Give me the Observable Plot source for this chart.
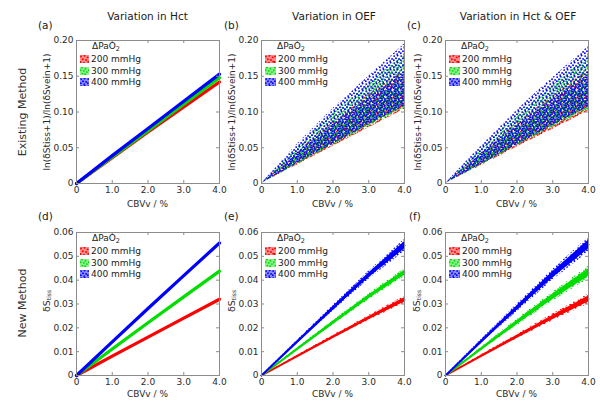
<!DOCTYPE html>
<html><head><meta charset="utf-8">
<script src="https://cdn.jsdelivr.net/npm/d3@7"></script>
<script src="https://cdn.jsdelivr.net/npm/@observablehq/plot@0.6"></script>
<style>
body{margin:0;background:#fff;font-family:"DejaVu Sans",sans-serif;color:#222;}
#fig{position:relative;width:600px;height:410px;overflow:hidden;background:#fff;}
.t{position:absolute;white-space:nowrap;line-height:1;transform:translate(-50%,-50%);}
.tl{position:absolute;white-space:nowrap;line-height:1;transform:translate(0,-50%);}
.rot{transform:translate(-50%,-50%) rotate(-90deg);}
.leg{position:absolute;font-size:9px;line-height:1;white-space:nowrap;color:#222;}
.leg sub{font-size:6.5px;vertical-align:-2px;line-height:0;}
.sw{position:absolute;}
</style></head><body>
<svg width="0" height="0" style="position:absolute">
<defs>
<pattern id="patR" patternUnits="userSpaceOnUse" width="9" height="9">
<g fill="#ff0000">
<circle cx="1" cy="1.5" r="0.95"/><circle cx="4.5" cy="0.8" r="0.95"/><circle cx="7.6" cy="2.4" r="0.95"/>
<circle cx="2.8" cy="4.2" r="0.95"/><circle cx="6" cy="5" r="0.95"/><circle cx="0.6" cy="7" r="0.95"/>
<circle cx="3.9" cy="7.6" r="0.95"/><circle cx="8.2" cy="6.8" r="0.95"/>
</g>
</pattern>
<pattern id="patG" patternUnits="userSpaceOnUse" width="8" height="8">
<g fill="#00dd00">
<circle cx="2" cy="0.6" r="0.95"/><circle cx="5.5" cy="1.8" r="0.95"/><circle cx="0.7" cy="3.3" r="0.95"/>
<circle cx="3.8" cy="3.9" r="0.95"/><circle cx="6.9" cy="5.1" r="0.95"/><circle cx="2.4" cy="6.6" r="0.95"/>
<circle cx="5.2" cy="7.2" r="0.95"/>
</g>
</pattern>
<pattern id="patB" patternUnits="userSpaceOnUse" width="7" height="7">
<g fill="#0000ff">
<circle cx="1.2" cy="1.1" r="0.95"/><circle cx="4.6" cy="0.5" r="0.95"/><circle cx="3" cy="3.2" r="0.95"/>
<circle cx="6.1" cy="3.9" r="0.95"/><circle cx="0.8" cy="5.2" r="0.95"/><circle cx="4.2" cy="6.1" r="0.95"/>
</g>
</pattern>
<pattern id="patR2" patternUnits="userSpaceOnUse" width="9" height="9">
<g fill="#ff0000">
<circle cx="2.9" cy="2" r="0.95"/><circle cx="6.2" cy="0.3" r="0.95"/><circle cx="8.5" cy="4.3" r="0.95"/>
<circle cx="4.6" cy="5.9" r="0.95"/><circle cx="1.5" cy="5.5" r="0.95"/><circle cx="6.7" cy="8.2" r="0.95"/>
</g>
</pattern>
<pattern id="patG2" patternUnits="userSpaceOnUse" width="8" height="8">
<g fill="#00dd00">
<circle cx="4" cy="0.5" r="0.95"/><circle cx="7.4" cy="2.9" r="0.95"/><circle cx="2.3" cy="2.6" r="0.95"/>
<circle cx="5.4" cy="5.3" r="0.95"/><circle cx="0.6" cy="5.6" r="0.95"/><circle cx="3.6" cy="7.5" r="0.95"/>
</g>
</pattern>
<pattern id="patB2" patternUnits="userSpaceOnUse" width="7" height="7">
<g fill="#0000ff">
<circle cx="2.8" cy="1.4" r="0.95"/><circle cx="5.8" cy="2" r="0.95"/><circle cx="1.5" cy="3.9" r="0.95"/>
<circle cx="5" cy="4.9" r="0.95"/><circle cx="2.4" cy="6.4" r="0.95"/>
</g>
</pattern>
</defs>
</svg>
<div id="fig"></div>
<script>
// ---------- data ----------
const cbvGrid = [0, 1, 2, 3, 4];
const cbvTicks = [0, 1, 2, 3, 4];
const cbvTickLabels = ["0", "1.0", "2.0", "3.0", "4.0"];
const ratioTicks = [0, 0.05, 0.1, 0.15, 0.2];
const ratioTickLabels = ["0", "0.05", "0.10", "0.15", "0.20"];
const dsTicks = [0, 0.01, 0.02, 0.03, 0.04, 0.05, 0.06];
const dsTickLabels = ["0", "0.01", "0.02", "0.03", "0.04", "0.05", "0.06"];
const pao2Labels = ["200 mmHg", "300 mmHg", "400 mmHg"];
const columnTitles = ["Variation in Hct", "Variation in OEF", "Variation in Hct & OEF"];
const panelLetters = ["(a)", "(b)", "(c)", "(d)", "(e)", "(f)"];
const rowTitles = ["Existing Method", "New Method"];

// (a) existing method, Hct variation: ratio vs CBVv
const hctRatio200 = [0, 0.036, 0.072, 0.107, 0.142];
const hctRatio300 = [0, 0.037, 0.074, 0.111, 0.148];
const hctRatio400 = [0, 0.039, 0.077, 0.115, 0.153];
// (b) existing method, OEF variation: scatter envelope (lower edge, top of dense core, upper edge)
const oefRatioLo200 = [0, 0.026, 0.052, 0.078, 0.104];
const oefRatioCore200 = [0, 0.036, 0.070, 0.102, 0.132];
const oefRatioHi200 = [0, 0.044, 0.086, 0.124, 0.158];
const oefRatioLo300 = [0, 0.027, 0.054, 0.080, 0.106];
const oefRatioCore300 = [0, 0.040, 0.078, 0.113, 0.145];
const oefRatioHi300 = [0, 0.050, 0.098, 0.140, 0.180];
const oefRatioLo400 = [0, 0.028, 0.055, 0.082, 0.108];
const oefRatioCore400 = [0, 0.043, 0.083, 0.120, 0.155];
const oefRatioHi400 = [0, 0.055, 0.105, 0.150, 0.195];
// (c) existing method, Hct & OEF variation
const bothRatioLo200 = [0, 0.025, 0.051, 0.076, 0.101];
const bothRatioCore200 = [0, 0.035, 0.069, 0.101, 0.131];
const bothRatioHi200 = [0, 0.043, 0.085, 0.122, 0.160];
const bothRatioLo300 = [0, 0.026, 0.053, 0.079, 0.104];
const bothRatioCore300 = [0, 0.039, 0.076, 0.111, 0.143];
const bothRatioHi300 = [0, 0.048, 0.095, 0.137, 0.178];
const bothRatioLo400 = [0, 0.027, 0.054, 0.081, 0.107];
const bothRatioCore400 = [0, 0.042, 0.081, 0.118, 0.152];
const bothRatioHi400 = [0, 0.053, 0.103, 0.148, 0.192];
// (d) new method, Hct variation: dS_tiss vs CBVv
const hctDS200 = [0, 0.0081, 0.0161, 0.0241, 0.0320];
const hctDS300 = [0, 0.0111, 0.0221, 0.0330, 0.0438];
const hctDS400 = [0, 0.0141, 0.0281, 0.0419, 0.0556];
// (e) new method, OEF variation
const oefDSLo200 = [0, 0.0077, 0.0154, 0.0231, 0.0302];
const oefDSHi200 = [0, 0.0085, 0.0169, 0.0252, 0.0332];
const oefDSLo300 = [0, 0.0106, 0.0212, 0.0317, 0.0414];
const oefDSHi300 = [0, 0.0116, 0.0231, 0.0343, 0.0448];
const oefDSLo400 = [0, 0.0135, 0.0270, 0.0403, 0.0520];
const oefDSHi400 = [0, 0.0148, 0.0294, 0.0437, 0.0572];
// (f) new method, Hct & OEF variation
const bothDSLo200 = [0, 0.0077, 0.0153, 0.0229, 0.0300];
const bothDSHi200 = [0, 0.0087, 0.0173, 0.0258, 0.0342];
const bothDSLo300 = [0, 0.0105, 0.0209, 0.0312, 0.0405];
const bothDSHi300 = [0, 0.0119, 0.0236, 0.0349, 0.0458];
const bothDSLo400 = [0, 0.0134, 0.0267, 0.0400, 0.0518];
const bothDSHi400 = [0, 0.0151, 0.0299, 0.0444, 0.0580];

// ---------- styles ----------
const seriesColors = ["#ff0000", "#00dd00", "#0000ff"];
const seriesPatterns = ["url(#patR)", "url(#patG)", "url(#patB)"];
const seriesPatterns2 = ["url(#patR2)", "url(#patG2)", "url(#patB2)"];
const frameColor = "#8c8c8c";

const fig = document.getElementById("fig");
const FW = 143, FH = 143, ML = 36, MR = 6, MT = 6, MB = 18;

function lineMarks(series) {
  return series.map((ys, k) => Plot.line(cbvGrid, {x: d => d, y: (d, i) => ys[i], stroke: seriesColors[k], strokeWidth: 3.2}));
}
function bandMarks(los, his) {
  const out = [];
  los.forEach((lo, k) => {
    const hi = his[k];
    out.push(Plot.areaY(cbvGrid, {x: d => d, y1: (d, i) => lo[i], y2: (d, i) => hi[i], fill: seriesPatterns[k]}));
    out.push(Plot.areaY(cbvGrid, {x: d => d, y1: (d, i) => lo[i] + 0.2 * (hi[i] - lo[i]), y2: (d, i) => hi[i] - 0.2 * (hi[i] - lo[i]), fill: seriesColors[k]}));
    out.push(Plot.line(cbvGrid, {x: d => d, y: (d, i) => (lo[i] + hi[i]) / 2, stroke: seriesColors[k], strokeWidth: 1.8}));
  });
  return out;
}
function cloudMarks(los, cores, his) {
  const out = [];
  los.forEach((lo, k) => {
    out.push(Plot.areaY(cbvGrid, {x: d => d, y1: (d, i) => lo[i], y2: (d, i) => his[k][i], fill: seriesPatterns[k]}));
    out.push(Plot.areaY(cbvGrid, {x: d => d, y1: (d, i) => lo[i], y2: (d, i) => cores[k][i], fill: seriesPatterns2[k]}));
  });
  return out;
}

function panel(left, top, yTicks, yTickLabels, marks) {
  const chart = Plot.plot({
    width: FW + ML + MR, height: FH + MT + MB,
    marginLeft: ML, marginRight: MR, marginTop: MT, marginBottom: MB,
    style: {background: "transparent", fontFamily: "DejaVu Sans", fontSize: "9px", color: "#2a2a2a", overflow: "visible"},
    x: {domain: [0, 4], ticks: cbvTicks, tickFormat: d => cbvTickLabels[cbvTicks.indexOf(d)], tickSize: 0, tickPadding: 3, label: null},
    y: {domain: [yTicks[0], yTicks[yTicks.length - 1]], ticks: yTicks, tickFormat: d => yTickLabels[yTicks.indexOf(d)], tickSize: 0, tickPadding: 3, label: null},
    marks: [
      ...marks,
      Plot.frame({stroke: frameColor}),
      Plot.tickX(cbvTicks, {x: d => d, insetTop: FH - 3, stroke: frameColor}),
      Plot.tickX(cbvTicks, {x: d => d, insetBottom: FH - 3, stroke: frameColor}),
      Plot.tickY(yTicks, {y: d => d, insetRight: FW - 3, stroke: frameColor}),
      Plot.tickY(yTicks, {y: d => d, insetLeft: FW - 3, stroke: frameColor})
    ]
  });
  chart.style.position = "absolute";
  chart.style.left = (left - ML) + "px";
  chart.style.top = (top - MT) + "px";
  fig.appendChild(chart);
}

function text(html, x, y, size, cls, color) {
  const d = document.createElement("div");
  d.className = cls;
  d.style.left = x + "px"; d.style.top = y + "px";
  d.style.fontSize = size + "px";
  if (color) d.style.color = color;
  d.innerHTML = html;
  fig.appendChild(d);
}

function legend(fl, ft, swW) {
  text("ΔPaO<sub>2</sub>", fl + 16, ft + 6, 9, "leg tl");
  const rows = [19, 30.7, 42.3];
  pao2Labels.forEach((lab, k) => {
    const s = document.createElementNS("http://www.w3.org/2000/svg", "svg");
    s.setAttribute("width", swW); s.setAttribute("height", 8);
    s.setAttribute("class", "sw");
    s.style.left = (fl + 4) + "px"; s.style.top = (ft + rows[k] - 4) + "px";
    const r0 = document.createElementNS("http://www.w3.org/2000/svg", "rect");
    r0.setAttribute("width", swW); r0.setAttribute("height", 8);
    r0.setAttribute("fill", seriesColors[k]); r0.setAttribute("fill-opacity", 0.45);
    s.appendChild(r0);
    const r1 = document.createElementNS("http://www.w3.org/2000/svg", "rect");
    r1.setAttribute("width", swW); r1.setAttribute("height", 8);
    r1.setAttribute("fill", seriesPatterns[k]);
    s.appendChild(r1);
    fig.appendChild(s);
    text(lab, fl + 4 + swW + 2, ft + rows[k], 9, "leg tl");
  });
}

// ---------- panels ----------
const colL = [76, 261, 445];
const rowT = [40, 232];

panel(colL[0], rowT[0], ratioTicks, ratioTickLabels, lineMarks([hctRatio200, hctRatio300, hctRatio400]));
panel(colL[1], rowT[0], ratioTicks, ratioTickLabels, cloudMarks(
  [oefRatioLo200, oefRatioLo300, oefRatioLo400],
  [oefRatioCore200, oefRatioCore300, oefRatioCore400],
  [oefRatioHi200, oefRatioHi300, oefRatioHi400]));
panel(colL[2], rowT[0], ratioTicks, ratioTickLabels, cloudMarks(
  [bothRatioLo200, bothRatioLo300, bothRatioLo400],
  [bothRatioCore200, bothRatioCore300, bothRatioCore400],
  [bothRatioHi200, bothRatioHi300, bothRatioHi400]));
panel(colL[0], rowT[1], dsTicks, dsTickLabels, lineMarks([hctDS200, hctDS300, hctDS400]));
panel(colL[1], rowT[1], dsTicks, dsTickLabels, bandMarks(
  [oefDSLo200, oefDSLo300, oefDSLo400], [oefDSHi200, oefDSHi300, oefDSHi400]));
panel(colL[2], rowT[1], dsTicks, dsTickLabels, bandMarks(
  [bothDSLo200, bothDSLo300, bothDSLo400], [bothDSHi200, bothDSHi300, bothDSHi400]));

// ---------- text ----------
const titleX = [147.5, 334, 518];
columnTitles.forEach((t, i) => text(t, titleX[i], 16, 10.5, "t", "#1a1a1a"));
const letterPos = [[38, 25], [224, 25], [407, 25], [38, 216], [224, 216], [409, 216]];
panelLetters.forEach((t, i) => text(t, letterPos[i][0], letterPos[i][1], 10.5, "tl", "#1a1a1a"));
text(rowTitles[0], 22, 112, 11, "t rot", "#333");
text(rowTitles[1], 22, 302.5, 11, "t rot", "#333");
const ratioLabelX = [47, 232, 418];
ratioLabelX.forEach(x => text("ln(δStiss+1)/ln(δSvein+1)", x, 112, 9, "t rot", "#2a2a2a"));
const dsLabelX = [47, 232, 417];
dsLabelX.forEach(x => text("δS<sub style='font-size:6px;vertical-align:-1px;line-height:0'>tiss</sub>", x, 301, 9.5, "t rot", "#2a2a2a"));
colL.forEach(l => {
  text("CBVv / %", l + FW / 2, 203.5, 9, "t", "#2a2a2a");
  text("CBVv / %", l + FW / 2, 393.5, 9, "t", "#2a2a2a");
});
legend(colL[0], rowT[0], 9);
legend(colL[1], rowT[0], 11);
legend(colL[2], rowT[0], 11);
legend(colL[0], rowT[1], 9);
legend(colL[1], rowT[1], 11);
legend(colL[2], rowT[1], 11);
</script>
</body></html>
